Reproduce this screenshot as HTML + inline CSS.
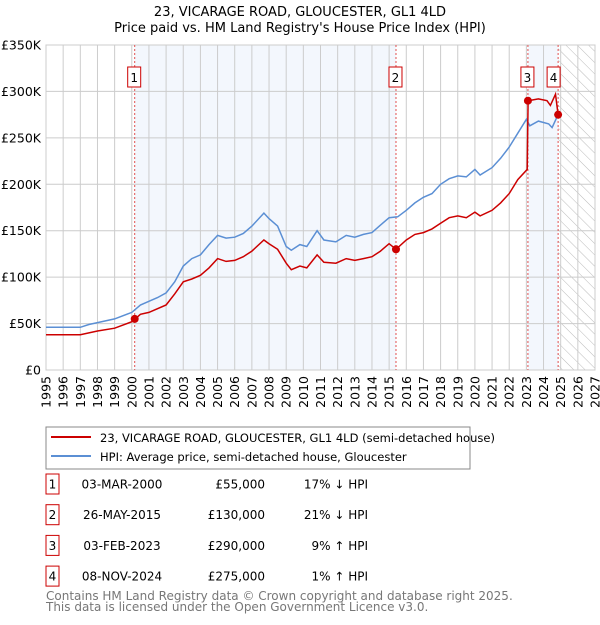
<!DOCTYPE html>
<html><head><meta charset="utf-8"><style>
body{margin:0;background:#fff;font-family:"Liberation Sans","DejaVu Sans",sans-serif;}
svg text{font-family:"DejaVu Sans","Liberation Sans",sans-serif;}
</style></head><body>
<svg id="c" width="600" height="620" xmlns="http://www.w3.org/2000/svg">
<defs><pattern id="hatch" width="8" height="8" patternUnits="userSpaceOnUse" patternTransform="rotate(-45)"><line x1="0" y1="0" x2="0" y2="8" stroke="#bbb" stroke-width="1"/></pattern></defs>
<text x="300" y="16" text-anchor="middle" font-size="13">23, VICARAGE ROAD, GLOUCESTER, GL1 4LD</text>
<text x="300" y="32" text-anchor="middle" font-size="13">Price paid vs. HM Land Registry's House Price Index (HPI)</text>
<g id="plot"></g>
<rect x="46" y="427" width="424" height="42" fill="#fff" stroke="#888"/>
<line x1="51" y1="437" x2="91" y2="437" stroke="#cc0000" stroke-width="2"/>
<text x="100" y="442" font-size="11.5">23, VICARAGE ROAD, GLOUCESTER, GL1 4LD (semi-detached house)</text>
<line x1="51" y1="456" x2="91" y2="456" stroke="#5b8fd4" stroke-width="2"/>
<text x="100" y="461" font-size="11.5">HPI: Average price, semi-detached house, Gloucester</text>
<g id="table"></g>
<text x="46" y="600" font-size="12" fill="#777">Contains HM Land Registry data © Crown copyright and database right 2025.</text>
<text x="46" y="611" font-size="12" fill="#777">This data is licensed under the Open Government Licence v3.0.</text>
</svg>
<script>
const yTicks=[0,50,100,150,200,250,300,350];
const yTickLabels=["£0","£50K","£100K","£150K","£200K","£250K","£300K","£350K"];
const years=[1995,1996,1997,1998,1999,2000,2001,2002,2003,2004,2005,2006,2007,2008,2009,2010,2011,2012,2013,2014,2015,2016,2017,2018,2019,2020,2021,2022,2023,2024,2025,2026,2027];
const hpiT=[1995,1996,1997,1997.5,1998,1999,2000,2000.5,2001,2001.5,2002,2002.5,2003,2003.5,2004,2004.5,2005,2005.5,2006,2006.5,2007,2007.7,2008,2008.5,2009,2009.3,2009.8,2010.2,2010.8,2011.2,2011.9,2012.5,2013,2013.5,2014,2014.5,2015,2015.5,2016,2016.5,2017,2017.5,2018,2018.5,2019,2019.5,2020,2020.3,2021,2021.5,2022,2022.5,2023,2023.2,2023.7,2024.3,2024.5,2024.85];
const hpiV=[46,46,46,49,51,55,62,70,74,78,83,95,112,120,124,135,145,142,143,147,155,169,163,155,133,129,135,133,150,140,138,145,143,146,148,156,164,165,172,180,186,190,200,206,209,208,216,210,218,228,240,255,270,263,268,265,261,275];
const priceT=[1995,1996,1997,1998,1999,2000,2000.2,2000.5,2001,2002,2002.5,2003,2003.5,2004,2004.5,2005,2005.5,2006,2006.5,2007,2007.7,2008,2008.5,2009,2009.3,2009.8,2010.2,2010.8,2011.2,2011.9,2012.5,2013,2013.5,2014,2014.5,2015,2015.4,2016,2016.5,2017,2017.5,2018,2018.5,2019,2019.5,2020,2020.3,2021,2021.5,2022,2022.5,2023.05,2023.1,2023.7,2024.2,2024.4,2024.7,2024.85];
const priceV=[38,38,38,42,45,52,55,60,62,70,82,95,98,102,110,120,117,118,122,128,140,136,130,115,108,112,110,124,116,115,120,118,120,122,128,136,130,140,146,148,152,158,164,166,164,170,166,172,180,190,205,216,290,292,290,285,297,275];
const saleT=[2000.17,2015.4,2023.09,2024.85];
const saleV=[55,130,290,275];
const saleLabels=["1","2","3","4"];
const saleDates=["03-MAR-2000","26-MAY-2015","03-FEB-2023","08-NOV-2024"];
const salePrices=["£55,000","£130,000","£290,000","£275,000"];
const saleHpi=["17% ↓ HPI","21% ↓ HPI","9% ↑ HPI","1% ↑ HPI"];
const X0=46,X1=595,Y0=370,Y1=45;
const x=t=>X0+(t-1995)/(2027-1995)*(X1-X0);
const y=v=>Y0-v/350*(Y0-Y1);
const NS="http://www.w3.org/2000/svg";
const plot=document.getElementById('plot');
function mk(tag,attrs,parent){const e=document.createElementNS(NS,tag);for(const k in attrs)e.setAttribute(k,attrs[k]);(parent||plot).appendChild(e);return e;}
let r;
r=mk('rect',{x:x(saleT[0]),y:Y1,width:x(saleT[1])-x(saleT[0]),height:Y0-Y1,fill:'#eef3fc',opacity:0.7});


r=mk('rect',{x:x(saleT[2]),y:Y1,width:x(saleT[3])-x(saleT[2]),height:Y0-Y1,fill:'#eef3fc',opacity:0.7});


r=mk('rect',{x:x(saleT[3]),y:Y1,width:X1-x(saleT[3]),height:Y0-Y1,fill:'url(#hatch)'});


years.forEach(t=>{const l=mk('line',{x1:x(t),x2:x(t),y1:Y1,y2:Y0,stroke:'#ccc','stroke-width':1});


const tx=mk('text',{x:0,y:0,'font-size':12.5,'text-anchor':'end',transform:`translate(${x(t)+4.5},376) rotate(-90)`});tx.textContent=t;

});
yTicks.forEach((v,i)=>{const l=mk('line',{x1:X0,x2:X1,y1:y(v),y2:y(v),stroke:'#ccc','stroke-width':1});


const tx=mk('text',{x:41,y:y(v)+4.5,'font-size':12.5,'text-anchor':'end'});tx.textContent=yTickLabels[i];

});
r=mk('rect',{x:X0,y:Y1,width:X1-X0,height:Y0-Y1,fill:'none',stroke:'#ccc'});


saleT.forEach((t,i)=>{const l=mk('line',{x1:x(t),x2:x(t),y1:Y1,y2:Y0,stroke:'#e05050','stroke-width':1,'stroke-dasharray':'2,2'});

});
const pts=(T,V)=>T.map((t,i)=>x(t).toFixed(1)+','+y(V[i]).toFixed(1)).join(' ');
let p=mk('polyline',{points:pts(hpiT,hpiV),fill:'none',stroke:'#5b8fd4','stroke-width':1.5});


p=mk('polyline',{points:pts(priceT,priceV),fill:'none',stroke:'#cc0000','stroke-width':1.5});


saleT.forEach((t,i)=>{const c=mk('circle',{cx:x(t),cy:y(saleV[i]),r:4,fill:'#cc0000'});


const bx=x(t)-7-(i===3?4:0);
const b=mk('rect',{x:bx,y:67,width:13,height:20,fill:'#fff',stroke:'#cc0000'});


const tx=mk('text',{x:bx+6.5,y:82,'font-size':12,'text-anchor':'middle'});tx.textContent=saleLabels[i];

});
const tb=document.getElementById('table');
saleLabels.forEach((s,i)=>{const cy=484+i*30.7;
const b=mk('rect',{x:46,y:cy-10,width:13,height:20,fill:'#fff',stroke:'#cc0000'},tb);


const cols=[[52.5,'middle',s],[122,'middle',saleDates[i]],[265,'end',salePrices[i]],[368,'end',saleHpi[i]]];
cols.forEach(cl=>{const tx=mk('text',{x:cl[0],y:cy+4.5,'font-size':12,'text-anchor':cl[1]},tb);tx.textContent=cl[2];

});});
</script>
</body></html>
